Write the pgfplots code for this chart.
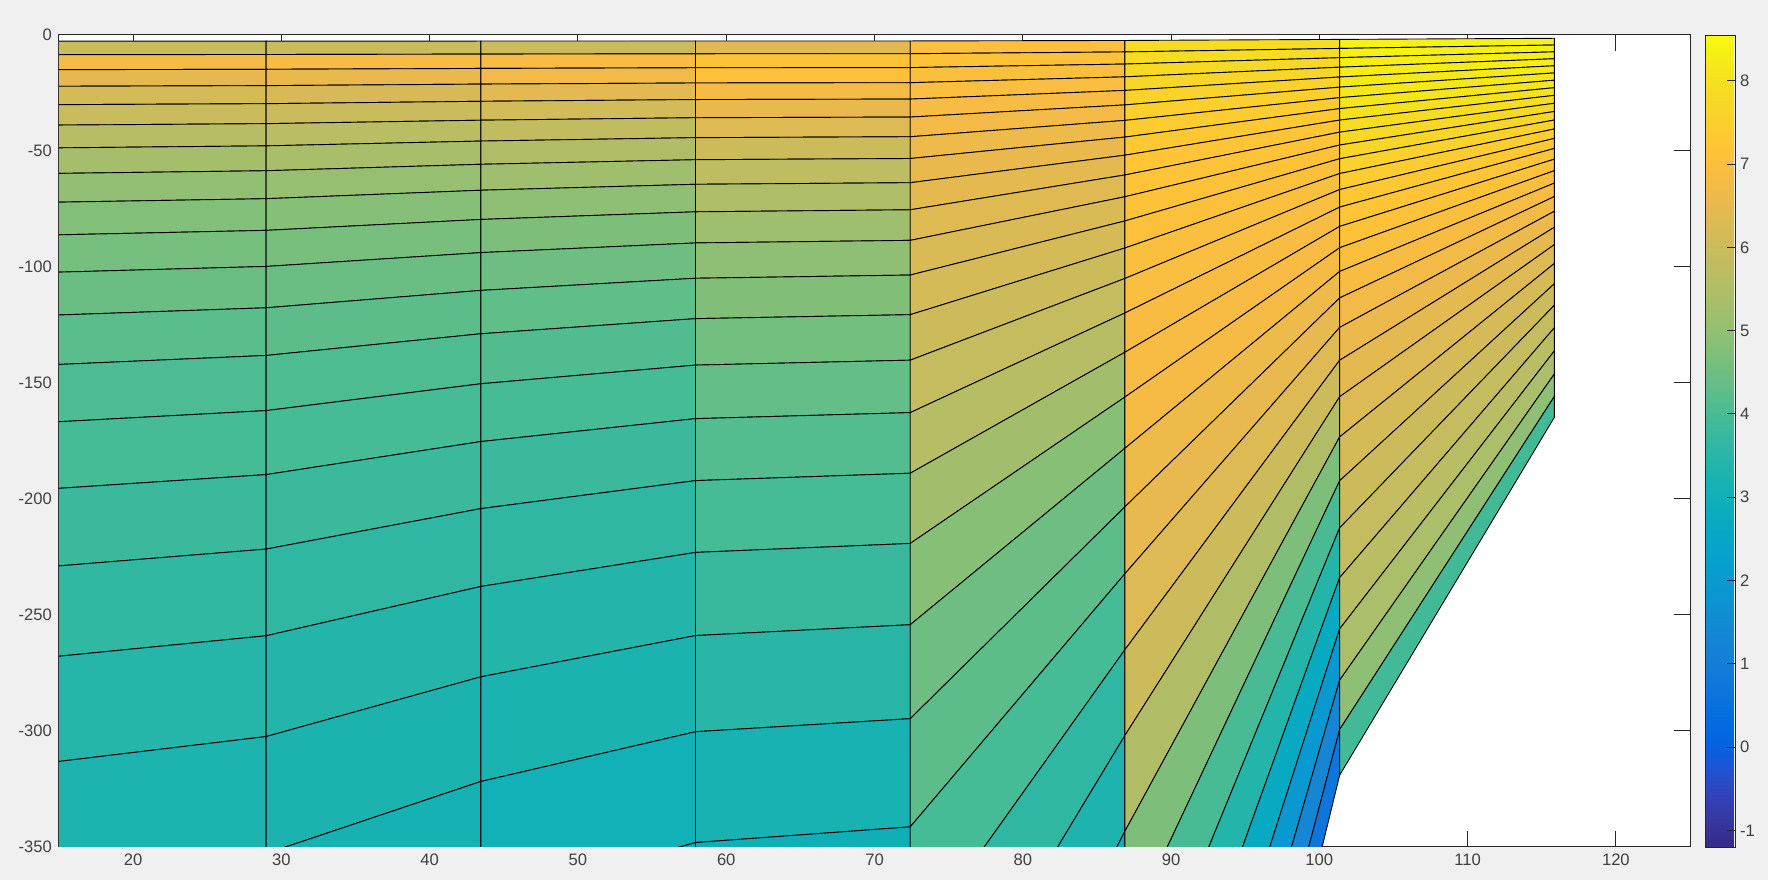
\documentclass[border=0pt]{standalone}
\usepackage{fontspec}
\setmainfont{Liberation Sans}
\usepackage{pgfplots}
\pgfplotsset{compat=1.18}

\definecolor{figbg}{RGB}{240,240,240}
\definecolor{axgray}{RGB}{38,38,38}
\definecolor{lblgray}{RGB}{64,64,64}

\pgfplotsset{
  colormap={parula}{
    rgb255(0pt)=(53,42,135); rgb255(2pt)=(54,55,160); rgb255(4pt)=(50,67,186);
    rgb255(6pt)=(32,83,212); rgb255(8pt)=(3,99,225); rgb255(10pt)=(4,109,224);
    rgb255(12pt)=(13,117,220); rgb255(14pt)=(18,125,216); rgb255(16pt)=(20,133,212);
    rgb255(18pt)=(16,142,210); rgb255(20pt)=(9,152,209); rgb255(22pt)=(6,160,205);
    rgb255(24pt)=(6,167,198); rgb255(26pt)=(10,172,190); rgb255(28pt)=(21,177,180);
    rgb255(30pt)=(37,181,169); rgb255(32pt)=(56,185,158); rgb255(34pt)=(77,188,146);
    rgb255(36pt)=(101,190,134); rgb255(38pt)=(124,191,123); rgb255(40pt)=(146,191,115);
    rgb255(42pt)=(165,190,107); rgb255(44pt)=(183,189,100); rgb255(46pt)=(200,188,93);
    rgb255(48pt)=(217,186,86); rgb255(50pt)=(233,185,78); rgb255(52pt)=(248,187,68);
    rgb255(54pt)=(255,195,55); rgb255(56pt)=(252,206,46); rgb255(58pt)=(247,216,38);
    rgb255(60pt)=(245,228,29); rgb255(62pt)=(246,243,19); rgb255(63pt)=(249,251,14)
  },
  sigmastrip/.style={surf, shader=flat corner, draw=black, line width=0.45pt,
    mesh/rows=30, point meta=explicit},
}

\begin{document}
\begin{tikzpicture}
\useasboundingbox (0,0) rectangle (884pt,440pt);
\fill[figbg] (0,0) rectangle (884pt,440pt);
\begin{axis}[
  at={(29.5pt,16.5pt)}, anchor=south west,
  scale only axis, width=815.5pt, height=406pt,
  xmin=15, xmax=125, ymin=-350, ymax=0,
  xtick={20,30,...,120}, ytick={-350,-300,...,0},
  tick align=inside, major tick length=8pt,
  axis background/.style={fill=white},
  axis line style={axgray, line width=0.5pt},
  every tick/.style={axgray, line width=0.5pt},
  tick label style={font=\fontsize{8.3}{10}\selectfont, text=lblgray},
  /pgf/number format/assume math mode=true,
  colormap name=parula,
  point meta min=-1.2, point meta max=8.55,
  colorbar,
  colorbar shift/.style={xshift=7.5pt},
  colorbar style={
    at={(parent axis.north east)}, anchor=north west,
    width=15pt,
    ytick={-1,0,...,8}, ytick pos=right, yticklabel pos=right,
    ytick align=inside, major tick length=4pt,
    axis line style={axgray, line width=0.5pt},
    every tick/.style={axgray, line width=0.5pt},
    tick label style={font=\fontsize{8.3}{10}\selectfont, text=lblgray},
    yticklabel style={xshift=-1pt},
    /pgf/number format/assume math mode=true,
  },
]

% strip 1
\addplot[sigmastrip] table[meta=c] {
x y c
14.49 -2.67 5.92
28.97 -2.66 5.92
14.49 -8.49 6.77
28.97 -8.42 6.77
14.49 -14.96 6.46
28.97 -14.80 6.46
14.49 -22.12 6.15
28.97 -21.84 6.15
14.49 -30.05 5.92
28.97 -29.62 5.92
14.49 -38.86 5.61
28.97 -38.23 5.61
14.49 -48.68 5.30
28.97 -47.80 5.30
14.49 -59.70 4.99
28.97 -58.52 4.99
14.49 -72.12 4.76
28.97 -70.57 4.76
14.49 -86.22 4.60
28.97 -84.22 4.60
14.49 -102.32 4.45
28.97 -99.77 4.45
14.49 -120.81 4.22
28.97 -117.60 4.22
14.49 -142.15 4.06
28.97 -138.14 4.06
14.49 -166.88 3.95
28.97 -161.91 3.95
14.49 -195.63 3.80
28.97 -189.50 3.80
14.49 -229.11 3.64
28.97 -221.60 3.64
14.49 -268.11 3.44
28.97 -258.96 3.44
14.49 -313.52 3.29
28.97 -302.41 3.29
14.49 -366.25 3.21
28.97 -352.83 3.21
14.49 -427.22 3.10
28.97 -411.10 3.10
14.49 -497.25 3.00
28.97 -478.00 3.00
14.49 -576.99 2.90
28.97 -554.13 2.90
14.49 -666.76 2.80
28.97 -639.82 2.80
14.49 -766.41 2.70
28.97 -734.91 2.70
14.49 -874.79 2.60
28.97 -838.31 2.60
14.49 -990.29 2.50
28.97 -948.49 2.50
14.49 -1109.89 2.40
28.97 -1062.57 2.40
14.49 -1229.41 2.30
28.97 -1176.58 2.30
14.49 -1343.97 2.20
28.97 -1285.87 2.20
14.49 -1448.26 2.20
28.97 -1385.38 2.20
};

% strip 2
\addplot[sigmastrip] table[meta=c] {
x y c
28.97 -2.66 5.95
43.45 -2.62 5.95
28.97 -8.42 6.85
43.45 -8.25 6.85
28.97 -14.80 6.55
43.45 -14.42 6.55
28.97 -21.84 6.20
43.45 -21.18 6.20
28.97 -29.62 5.95
43.45 -28.59 5.95
28.97 -38.23 5.65
43.45 -36.74 5.65
28.97 -47.80 5.35
43.45 -45.73 5.35
28.97 -58.52 5.05
43.45 -55.74 5.05
28.97 -70.57 4.80
43.45 -66.93 4.80
28.97 -84.22 4.62
43.45 -79.52 4.62
28.97 -99.77 4.45
43.45 -93.81 4.45
28.97 -117.60 4.25
43.45 -110.10 4.25
28.97 -138.14 4.08
43.45 -128.79 4.08
28.97 -161.91 3.95
43.45 -150.34 3.95
28.97 -189.50 3.78
43.45 -175.26 3.78
28.97 -221.60 3.60
43.45 -204.16 3.60
28.97 -258.96 3.42
43.45 -237.72 3.42
28.97 -302.41 3.26
43.45 -276.66 3.26
28.97 -352.83 3.15
43.45 -321.77 3.15
28.97 -411.10 3.05
43.45 -373.80 3.05
28.97 -478.00 2.95
43.45 -433.47 2.95
28.97 -554.13 2.85
43.45 -501.29 2.85
28.97 -639.82 2.75
43.45 -577.57 2.75
28.97 -734.91 2.65
43.45 -662.15 2.65
28.97 -838.31 2.55
43.45 -754.07 2.55
28.97 -948.49 2.45
43.45 -852.00 2.45
28.97 -1062.57 2.35
43.45 -953.38 2.35
28.97 -1176.58 2.25
43.45 -1054.67 2.25
28.97 -1285.87 2.15
43.45 -1151.81 2.15
28.97 -1385.38 2.15
43.45 -1240.30 2.15
};

% strip 3
\addplot[sigmastrip] table[meta=c] {
x y c
43.45 -2.62 6.00
57.93 -2.59 6.00
43.45 -8.25 6.85
57.93 -8.12 6.85
43.45 -14.42 6.70
57.93 -14.14 6.70
43.45 -21.18 6.40
57.93 -20.70 6.40
43.45 -28.59 6.10
57.93 -27.84 6.10
43.45 -36.74 5.80
57.93 -35.67 5.80
43.45 -45.73 5.50
57.93 -44.26 5.50
43.45 -55.74 5.20
57.93 -53.77 5.20
43.45 -66.93 4.95
57.93 -64.36 4.95
43.45 -79.52 4.70
57.93 -76.23 4.70
43.45 -93.81 4.50
57.93 -89.64 4.50
43.45 -110.10 4.30
57.93 -104.87 4.30
43.45 -128.79 4.10
57.93 -122.28 4.10
43.45 -150.34 3.95
57.93 -142.30 3.95
43.45 -175.26 3.78
57.93 -165.38 3.78
43.45 -204.16 3.60
57.93 -192.09 3.60
43.45 -237.72 3.42
57.93 -223.04 3.42
43.45 -276.66 3.25
57.93 -258.88 3.25
43.45 -321.77 3.05
57.93 -300.33 3.05
43.45 -373.80 2.90
57.93 -348.09 2.90
43.45 -433.47 2.80
57.93 -402.79 2.80
43.45 -501.29 2.70
57.93 -464.92 2.70
43.45 -577.57 2.60
57.93 -534.74 2.60
43.45 -662.15 2.50
57.93 -612.12 2.50
43.45 -754.07 2.40
57.93 -696.18 2.40
43.45 -852.00 2.30
57.93 -785.69 2.30
43.45 -953.38 2.20
57.93 -878.35 2.20
43.45 -1054.67 2.10
57.93 -970.94 2.10
43.45 -1151.81 2.00
57.93 -1059.74 2.00
43.45 -1240.30 2.00
57.93 -1140.67 2.00
};

% strip 4
\addplot[sigmastrip] table[meta=c] {
x y c
57.93 -2.59 6.40
72.41 -2.58 6.40
57.93 -8.12 7.10
72.41 -8.08 7.10
57.93 -14.14 7.05
72.41 -14.06 7.05
57.93 -20.70 6.80
72.41 -20.57 6.80
57.93 -27.84 6.55
72.41 -27.64 6.55
57.93 -35.67 6.30
72.41 -35.38 6.30
57.93 -44.26 6.00
72.41 -43.87 6.00
57.93 -53.77 5.75
72.41 -53.25 5.75
57.93 -64.36 5.45
72.41 -63.68 5.45
57.93 -76.23 5.20
72.41 -75.35 5.20
57.93 -89.64 4.95
72.41 -88.53 4.95
57.93 -104.87 4.75
72.41 -103.48 4.75
57.93 -122.28 4.55
72.41 -120.56 4.55
57.93 -142.30 4.35
72.41 -140.17 4.35
57.93 -165.38 4.15
72.41 -162.78 4.15
57.93 -192.09 3.95
72.41 -188.91 3.95
57.93 -223.04 3.75
72.41 -219.17 3.75
57.93 -258.88 3.50
72.41 -254.20 3.50
57.93 -300.33 3.20
72.41 -294.70 3.20
57.93 -348.09 3.00
72.41 -341.33 3.00
57.93 -402.79 2.80
72.41 -394.73 2.80
57.93 -464.92 2.65
72.41 -455.37 2.65
57.93 -534.74 2.50
72.41 -523.50 2.50
57.93 -612.12 2.35
72.41 -598.99 2.35
57.93 -696.18 2.20
72.41 -680.99 2.20
57.93 -785.69 2.05
72.41 -768.30 2.05
57.93 -878.35 1.90
72.41 -858.67 1.90
57.93 -970.94 1.75
72.41 -948.98 1.75
57.93 -1059.74 1.60
72.41 -1035.59 1.60
57.93 -1140.67 1.60
72.41 -1114.55 1.60
};

% strip 5
\addplot[sigmastrip] table[meta=c] {
x y c
72.41 -2.58 7.00
86.89 -2.37 7.00
72.41 -8.08 7.10
86.89 -7.31 7.10
72.41 -14.06 7.00
86.89 -12.53 7.00
72.41 -20.57 6.95
86.89 -18.05 6.95
72.41 -27.64 6.85
86.89 -23.91 6.85
72.41 -35.38 6.75
86.89 -30.14 6.75
72.41 -43.87 6.65
86.89 -36.82 6.65
72.41 -53.25 6.55
86.89 -44.01 6.55
72.41 -63.68 6.45
86.89 -51.81 6.45
72.41 -75.35 6.35
86.89 -60.34 6.35
72.41 -88.53 6.25
86.89 -69.73 6.25
72.41 -103.48 6.15
86.89 -80.16 6.15
72.41 -120.56 6.00
86.89 -91.82 6.00
72.41 -140.17 5.85
86.89 -104.95 5.85
72.41 -162.78 5.60
86.89 -119.82 5.60
72.41 -188.91 5.25
86.89 -136.74 5.25
72.41 -219.17 4.85
86.89 -156.05 4.85
72.41 -254.20 4.50
86.89 -178.14 4.50
72.41 -294.70 4.25
86.89 -203.39 4.25
72.41 -341.33 3.95
86.89 -232.21 3.95
72.41 -394.73 3.60
86.89 -264.96 3.60
72.41 -455.37 3.30
86.89 -301.91 3.30
72.41 -523.50 2.90
86.89 -343.20 2.90
72.41 -598.99 2.70
86.89 -388.77 2.70
72.41 -680.99 2.50
86.89 -438.11 2.50
72.41 -768.30 2.30
86.89 -490.55 2.30
72.41 -858.67 2.10
86.89 -544.76 2.10
72.41 -948.98 1.90
86.89 -598.93 1.90
72.41 -1035.59 1.70
86.89 -650.96 1.70
72.41 -1114.55 1.70
86.89 -698.55 1.70
};

% strip 6
\addplot[sigmastrip] table[meta=c] {
x y c
86.89 -2.37 7.90
101.37 -1.91 7.90
86.89 -7.31 7.90
101.37 -5.80 7.90
86.89 -12.53 7.80
101.37 -9.79 7.80
86.89 -18.05 7.70
101.37 -13.89 7.70
86.89 -23.91 7.60
101.37 -18.12 7.60
86.89 -30.14 7.50
101.37 -22.49 7.50
86.89 -36.82 7.40
101.37 -27.02 7.40
86.89 -44.01 7.30
101.37 -31.74 7.30
86.89 -51.81 7.20
101.37 -36.69 7.20
86.89 -60.34 7.15
101.37 -41.90 7.15
86.89 -69.73 7.10
101.37 -47.44 7.10
86.89 -80.16 7.05
101.37 -53.35 7.05
86.89 -91.82 7.00
101.37 -59.73 7.00
86.89 -104.95 6.95
101.37 -66.64 6.95
86.89 -119.82 6.90
101.37 -74.20 6.90
86.89 -136.74 6.85
101.37 -82.52 6.85
86.89 -156.05 6.80
101.37 -91.72 6.80
86.89 -178.14 6.65
101.37 -101.94 6.65
86.89 -203.39 6.50
101.37 -113.34 6.50
86.89 -232.21 6.30
101.37 -126.05 6.30
86.89 -264.96 6.00
101.37 -140.22 6.00
86.89 -301.91 5.50
101.37 -155.94 5.50
86.89 -343.20 4.70
101.37 -173.27 4.70
86.89 -388.77 4.00
101.37 -192.17 4.00
86.89 -438.11 3.40
101.37 -212.47 3.40
86.89 -490.55 2.70
101.37 -233.91 2.70
86.89 -544.76 1.95
101.37 -256.01 1.95
86.89 -598.93 1.30
101.37 -278.10 1.30
86.89 -650.96 0.70
101.37 -299.39 0.70
86.89 -698.55 0.70
101.37 -319.04 0.70
};

% strip 7
\addplot[sigmastrip] table[meta=c] {
x y c
101.37 -1.91 8.40
115.85 -1.43 8.40
101.37 -5.80 8.35
115.85 -4.33 8.35
101.37 -9.79 8.30
115.85 -7.27 8.30
101.37 -13.89 8.25
115.85 -10.25 8.25
101.37 -18.12 8.20
115.85 -13.27 8.20
101.37 -22.49 8.15
115.85 -16.36 8.15
101.37 -27.02 8.10
115.85 -19.50 8.10
101.37 -31.74 8.00
115.85 -22.72 8.00
101.37 -36.69 7.90
115.85 -26.03 7.90
101.37 -41.90 7.80
115.85 -29.44 7.80
101.37 -47.44 7.70
115.85 -32.98 7.70
101.37 -53.35 7.55
115.85 -36.66 7.55
101.37 -59.73 7.40
115.85 -40.52 7.40
101.37 -66.64 7.30
115.85 -44.59 7.30
101.37 -74.20 7.20
115.85 -48.92 7.20
101.37 -82.52 7.10
115.85 -53.53 7.10
101.37 -91.72 7.00
115.85 -58.49 7.00
101.37 -101.94 6.90
115.85 -63.85 6.90
101.37 -113.34 6.75
115.85 -69.66 6.75
101.37 -126.05 6.60
115.85 -75.99 6.60
101.37 -140.22 6.45
115.85 -82.88 6.45
101.37 -155.94 6.30
115.85 -90.37 6.30
101.37 -173.27 6.15
115.85 -98.49 6.15
101.37 -192.17 6.00
115.85 -107.22 6.00
101.37 -212.47 5.85
115.85 -116.49 5.85
101.37 -233.91 5.65
115.85 -126.21 5.65
101.37 -256.01 5.40
115.85 -136.18 5.40
101.37 -278.10 4.95
115.85 -146.15 4.95
101.37 -299.39 3.90
115.85 -155.81 3.90
101.37 -319.04 3.90
115.85 -164.83 3.90
};

\end{axis}
\end{tikzpicture}
\end{document}
